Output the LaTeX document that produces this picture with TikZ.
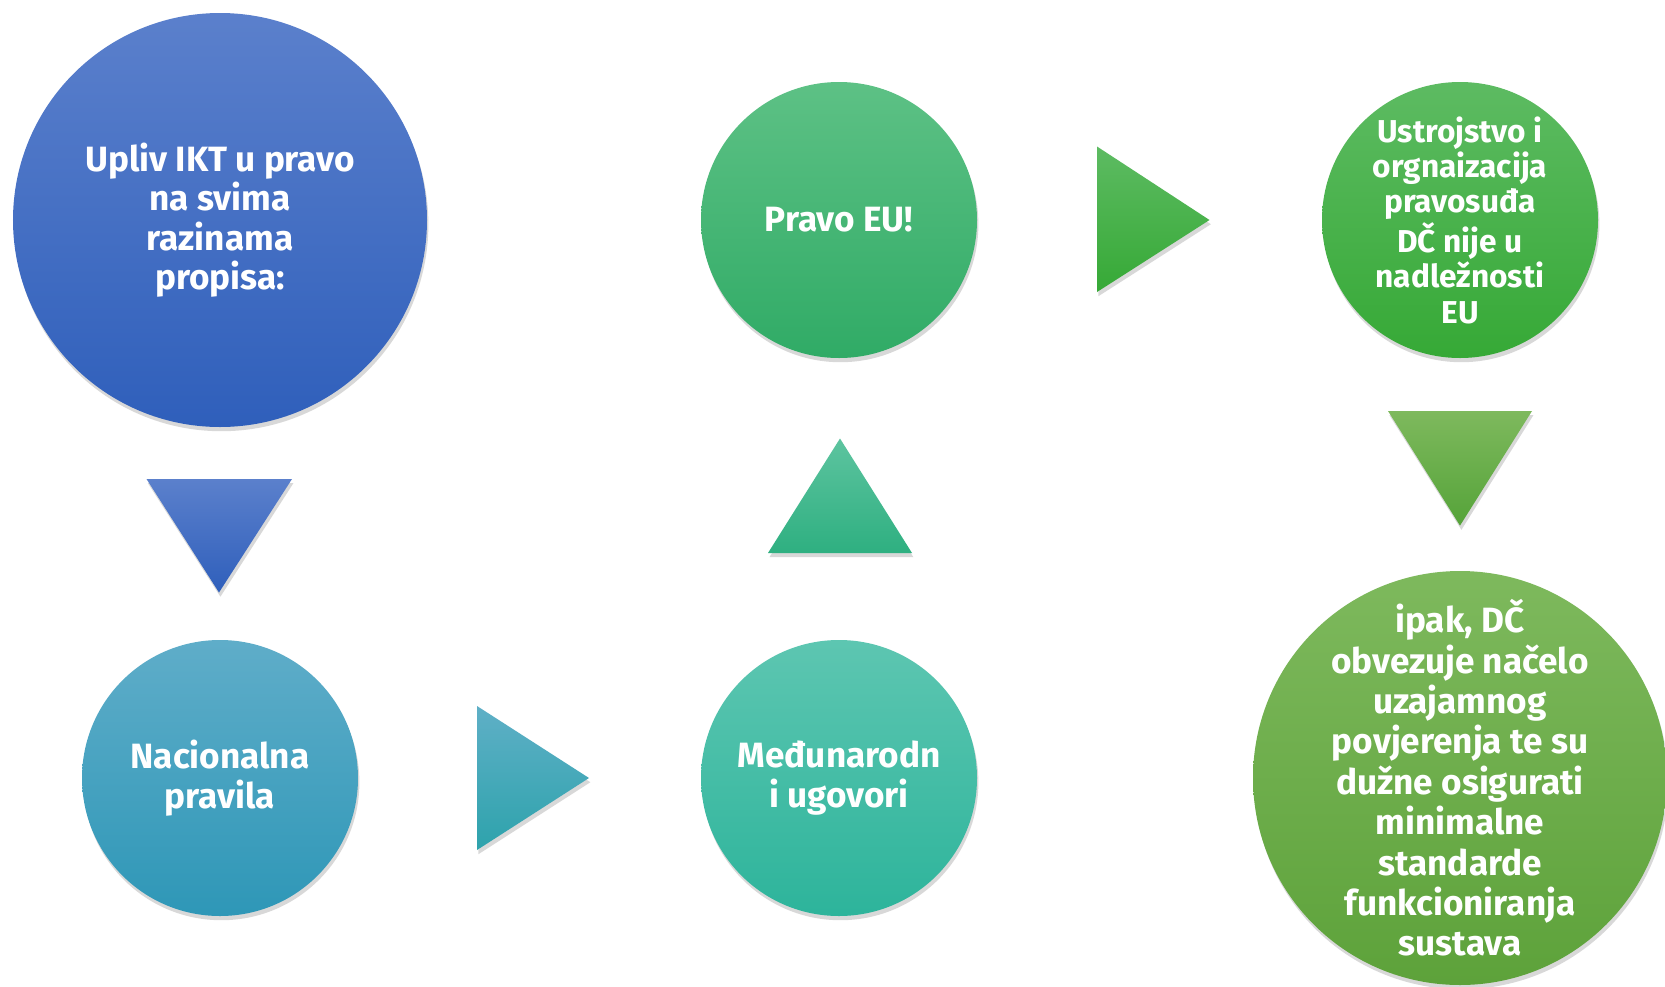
\documentclass[tikz,border=0pt]{standalone}
\usepackage{fontspec}
\setmainfont{Fira Sans}
\usetikzlibrary{shadows}

\definecolor{blueTop}{HTML}{5B80CC}
\definecolor{blueBot}{HTML}{2F5FBB}
\definecolor{tealTop}{HTML}{5FADC9}
\definecolor{tealBot}{HTML}{2E97B7}
\definecolor{aquaTop}{HTML}{5DC6B1}
\definecolor{aquaBot}{HTML}{2DB49B}
\definecolor{greenTop}{HTML}{5DC185}
\definecolor{greenBot}{HTML}{30AB66}
\definecolor{leafTop}{HTML}{5DBB62}
\definecolor{leafBot}{HTML}{36A936}
\definecolor{oliveTop}{HTML}{7EB95D}
\definecolor{oliveBot}{HTML}{5DA23A}

\tikzset{
	circ/.style={circle, draw=none, text=white, align=center, inner sep=-6mm,
		font=\bfseries\fontsize{10}{11.2}\selectfont,
		drop shadow={shadow xshift=0.4pt, shadow yshift=-1.2pt, opacity=0.3}},
	bigcirc/.style={circ, minimum size=4.14cm},
	smallcirc/.style={circ, minimum size=2.76cm},
	tri/.style={drop shadow={shadow xshift=0.4pt, shadow yshift=-1.2pt, opacity=0.3}}
}

\begin{document}
\begin{tikzpicture}
		\fill[white] (0,0) rectangle (16.65,-9.87);
		\useasboundingbox (0,0) rectangle (16.65,-9.87);
		% circles
		\node (upliv)[bigcirc, top color=blueTop, bottom color=blueBot] at (2.20,-2.20) {Upliv IKT u pravo\\ na svima\\ razinama\\ propisa:};
		\node (nacionalna)[smallcirc, top color=tealTop, bottom color=tealBot] at (2.20,-7.78) {Nacionalna\\ pravila};
		\node (medunarodni)[smallcirc, top color=aquaTop, bottom color=aquaBot] at (8.39,-7.78) {Međunarodn\\ i ugovori};
		\node (pravoeu)[smallcirc, top color=greenTop, bottom color=greenBot] at (8.39,-2.20) {Pravo EU!};
		\node (ustrojstvo)[smallcirc, top color=leafTop, bottom color=leafBot, font=\bfseries\fontsize{9}{10}\selectfont] at (14.60,-2.20) {Ustrojstvo i\\ orgnaizacija\\ pravosuđa\\ DČ nije u\\ nadležnosti\\ EU};
		\node (ipak)[bigcirc, top color=oliveTop, bottom color=oliveBot, font=\bfseries\fontsize{10}{11.5}\selectfont] at (14.60,-7.78) {ipak, DČ\\ obvezuje načelo\\ uzajamnog\\ povjerenja te su\\ dužne osigurati\\ minimalne\\ standarde\\ funkcioniranja\\ sustava};
		% triangles
		\shade[tri, top color=blueTop, bottom color=blueBot] (1.465,-4.79)--(2.92,-4.79)--(2.19,-5.925)--cycle;
		\shade[tri, top color=tealTop!90!aquaTop, bottom color=tealBot!60!aquaBot] (4.77,-7.06)--(5.89,-7.78)--(4.77,-8.50)--cycle;
		\shade[tri, top color=aquaTop!60!greenTop, bottom color=aquaBot!50!greenBot] (7.68,-5.53)--(9.12,-5.53)--(8.40,-4.385)--cycle;
		\shade[tri, top color=leafTop, bottom color=leafBot] (10.97,-1.465)--(12.095,-2.20)--(10.97,-2.92)--cycle;
		\shade[tri, top color=oliveTop, bottom color=oliveBot!80!leafBot] (13.88,-4.11)--(15.32,-4.11)--(14.60,-5.256)--cycle;
	\end{tikzpicture}
\end{document}
